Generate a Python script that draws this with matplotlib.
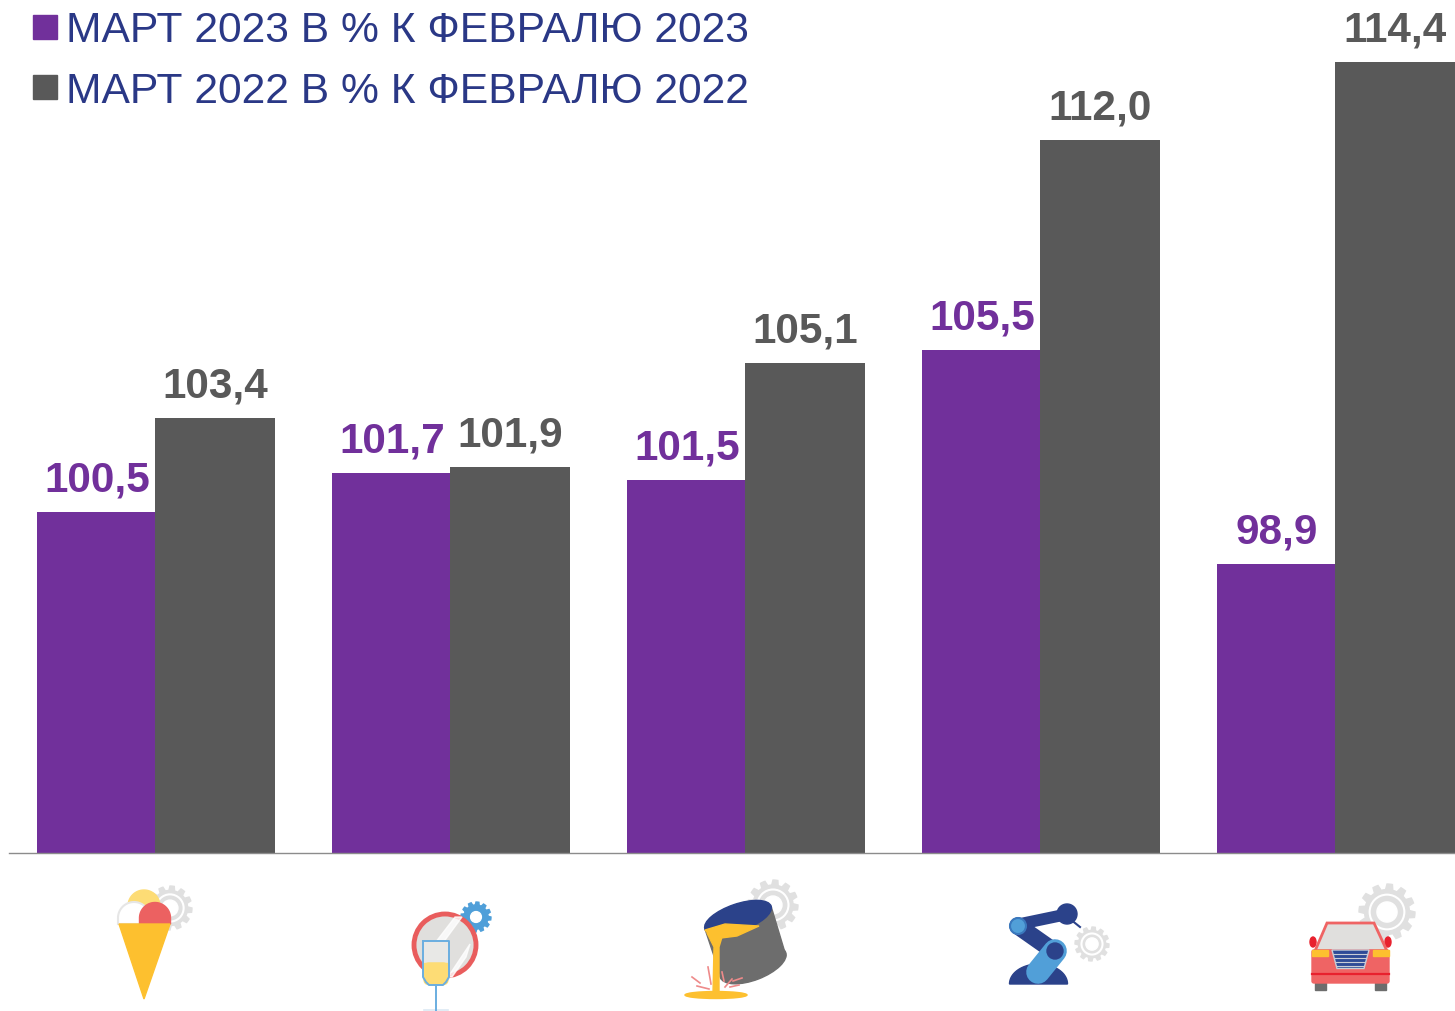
import numpy as np
import matplotlib
matplotlib.use("Agg")
import matplotlib.pyplot as plt
from matplotlib.patches import Circle, Ellipse, Polygon, Rectangle, FancyBboxPatch

plt.rcParams['font.family'] = ['Liberation Sans', 'DejaVu Sans']

W, H = 1455, 1012

groups = ["Ice cream", "Glass", "Metal", "Machinery", "Cars"]
values_2023 = [100.5, 101.7, 101.5, 105.5, 98.9]
values_2022 = [103.4, 101.9, 105.1, 112.0, 114.4]
legend_labels = ["МАРТ 2023 В % К ФЕВРАЛЮ 2023", "МАРТ 2022 В % К ФЕВРАЛЮ 2022"]

PURPLE = "#71309b"
GREY = "#595959"
NAVY = "#2a3886"
GEAR = "#e0e0e0"
DARKBLUE = "#2b428a"
LIGHTBLUE = "#519fd8"
YELLOW = "#fdc02f"


def fmt(v):
    return f"{v:.1f}".replace(".", ",")


fig = plt.figure(figsize=(W / 100, H / 100), dpi=100)

# axes box in pixels: left 9, right 1455, baseline 853.5, top 0
ax = fig.add_axes([9 / W, (H - 853.5) / H, (W - 9) / W, 853.5 / H])
x = np.arange(len(groups))
bw = 0.407
ax.bar(x - 0.2, values_2023, bw, color=PURPLE, zorder=2)
ax.bar(x + 0.2, values_2022, bw, color=GREY, zorder=3)
ax.set_xlim((9 - 156) / 295, (W - 156) / 295)
ax.set_ylim(90, 90 + 853.5 / 32.4)
ax.set_yticks([])
ax.set_xticks([])
for s in ["top", "left", "right"]:
    ax.spines[s].set_visible(False)
ax.spines["bottom"].set_color("#8c8c8c")
ax.spines["bottom"].set_linewidth(1)
ax.spines["bottom"].set_zorder(4)

for i in range(len(groups)):
    ax.annotate(fmt(values_2023[i]), (x[i] - 0.2, values_2023[i]), xytext=(0, 15.5),
                textcoords="offset points", ha="center", va="baseline",
                fontsize=30.4, fontweight="bold", color=PURPLE)
    ax.annotate(fmt(values_2022[i]), (x[i] + 0.2, values_2022[i]), xytext=(0, 15.5),
                textcoords="offset points", ha="center", va="baseline",
                fontsize=30.4, fontweight="bold", color=GREY)

# overlay in pixel coords for legend and icons
ov = fig.add_axes([0, 0, 1, 1], facecolor="none")
ov.set_xlim(0, W)
ov.set_ylim(H, 0)
ov.axis("off")

for label, col, ty, by in zip(legend_labels, [PURPLE, GREY], [27.5, 88], [41.5, 103]):
    ov.add_patch(Rectangle((33, ty - 12), 24, 24, color=col))
    ov.text(65.5, by, label, fontsize=30.7, color=NAVY, ha="left", va="baseline")


def gear(cx, cy, r, color=GEAR, z=1, ring=True):
    n = 12
    ang = np.linspace(0, 2 * np.pi, n * 8, endpoint=False)
    rad = np.where((np.arange(n * 8) % 8) < 4, r, r * 0.8)
    ov.add_patch(Polygon(np.c_[cx + rad * np.cos(ang), cy + rad * np.sin(ang)], color=color, zorder=z))
    if ring:
        ov.add_patch(Circle((cx, cy), r * 0.62, fc="none", ec="white", lw=1.5, zorder=z))
    ov.add_patch(Circle((cx, cy), r * 0.36, color="white", zorder=z))


def dome(cx, ybot, rx, ry, z, **kw):
    # half ellipse standing on y = ybot
    t = np.linspace(np.pi, 2 * np.pi, 40)
    ov.add_patch(Polygon(np.c_[cx + rx * np.cos(t), ybot + ry * np.sin(t)], zorder=z, **kw))


def scoop(cx, cy, r, ybot, z, **kw):
    # circle top with straight sides down to ybot
    t = np.linspace(np.pi, 2 * np.pi, 40)
    pts = np.c_[cx + r * np.cos(t), cy + r * np.sin(t)]
    pts = np.vstack([[cx - r, ybot], pts, [cx + r, ybot]])
    ov.add_patch(Polygon(pts, zorder=z, **kw))


# ice cream
gear(170, 909, 22)
scoop(144, 907, 16, 925, 2, color="#fddc75")
scoop(134, 919, 16, 925, 3, fc="white", ec="#e6e6e6", lw=1.5)
scoop(155, 919, 15.5, 925, 4, color="#ec6161")
ov.add_patch(Polygon([(119, 925), (170, 925), (144, 1000)], color=YELLOW, zorder=5))

# glass and mirror
gear(476, 918, 15, color="#4f9fd9", ring=False)
ov.add_patch(Circle((445, 946), 31, fc="#e0dfdd", ec="#e95d5d", lw=3.5, zorder=2))
ov.add_patch(Polygon([(432, 948), (455, 918), (462, 918), (437, 952)], color="white", alpha=0.8, zorder=3))
ov.add_patch(Polygon([(448, 978), (470, 945), (466, 958), (452, 978)], color="white", alpha=0.8, zorder=3))
ov.add_patch(Rectangle((423, 942), 25, 25, color="#e8e8e6", zorder=3))
ov.add_patch(FancyBboxPatch((424, 964), 24, 21.5, boxstyle="round,pad=0,rounding_size=5", color="#fddc75", zorder=4))
ov.add_patch(Rectangle((424, 964), 24, 8, color="#fddc75", zorder=4))
ov.plot([423, 423, 426, 429, 443, 446, 449, 449, 423], [942, 978, 983, 986, 986, 983, 978, 942, 942],
        color="#6aaee0", lw=1.4, zorder=5)
ov.plot([436, 436], [986, 1012], color="#6aaee0", lw=1.4, zorder=5)
ov.plot([424, 448], [1011, 1011], color="#dce9f3", lw=1.2, zorder=4)

# ladle
gear(773, 906, 25)
ov.add_patch(Ellipse((753, 966), 70, 30, angle=-21, color="#6d6d6d", zorder=2))
ov.add_patch(Polygon([(705, 930), (771, 907), (786, 957), (720, 975)], color="#6d6d6d", zorder=2))
ov.add_patch(Ellipse((738, 918.5), 70, 27, angle=-19, color=DARKBLUE, zorder=3))
ov.add_patch(Polygon([(705, 931), (725, 925), (759, 927), (737, 937), (713, 940)], color=YELLOW, zorder=4))
ov.add_patch(Ellipse((716, 996), 62, 7, color=YELLOW, zorder=4))
ov.add_patch(Polygon([(707, 934), (722, 938), (719, 948), (719, 995), (713, 995), (714, 948)], color=YELLOW, zorder=4))
for sx in [((692, 700), (978, 984)), ((697, 709), (987, 990)), ((708, 711), (968, 985)),
           ((722, 724), (973, 982)), ((725, 732), (988, 980)), ((730, 739), (988, 986)), ((733, 742), (982, 979))]:
    ov.plot(sx[0], sx[1], color="#ee8a8a", lw=1.2, zorder=3)

# robot arm
gear(1092, 945, 17)
ov.plot([1020, 1068], [925, 915], color=DARKBLUE, lw=8.5, solid_capstyle="butt", zorder=3)
ov.plot([1070, 1080], [920, 928], color=DARKBLUE, lw=1.5, zorder=2)
ov.add_patch(Circle((1067, 915), 10, color=DARKBLUE, zorder=3))
dome(1038.5, 985, 29, 20, 2, color=DARKBLUE)
ov.plot([1018, 1055], [927, 953], color=DARKBLUE, lw=12.5, solid_capstyle="round", zorder=4)
ov.add_patch(Circle((1018, 927), 8, fc=LIGHTBLUE, ec="#3a78bd", lw=1.5, zorder=5))
ov.plot([1038, 1055], [973, 952], color=LIGHTBLUE, lw=17, solid_capstyle="round", zorder=5)
ov.add_patch(Circle((1055, 952), 8, color=DARKBLUE, zorder=6))

# car
gear(1387, 913, 28)
ov.add_patch(Polygon([(1315, 952), (1327, 924), (1374, 924), (1387, 952)], fc="#e0dfdd", ec="#ef6464", lw=2, zorder=3))
ov.add_patch(Ellipse((1313, 943), 6, 10, color="#e8212e", zorder=2))
ov.add_patch(Ellipse((1388, 943), 6, 10, color="#e8212e", zorder=2))
ov.add_patch(Rectangle((1315, 982), 11, 8.5, color="#6d6d6d", zorder=2))
ov.add_patch(Rectangle((1375, 982), 11, 8.5, color="#6d6d6d", zorder=2))
ov.add_patch(FancyBboxPatch((1312, 951), 77, 33, boxstyle="round,pad=0,rounding_size=2", color="#ef6464", zorder=3))
ov.add_patch(Rectangle((1312, 951), 16, 6, color=YELLOW, zorder=4))
ov.add_patch(Rectangle((1373, 951), 16, 6, color=YELLOW, zorder=4))
ov.plot([1312, 1389], [975, 975], color="#e8212e", lw=1.6, zorder=4)
grille = Polygon([(1332, 951), (1369, 951), (1364, 969.5), (1337, 969.5)], fc="#2f4b97", ec="#c9cdd6", lw=1, zorder=4)
ov.add_patch(grille)
for gy in range(955, 970, 4):
    ln, = ov.plot([1330, 1371], [gy, gy], color="#c9cdd6", lw=0.8, zorder=5)
    ln.set_clip_path(grille)

fig.savefig("out.png", dpi=100)
